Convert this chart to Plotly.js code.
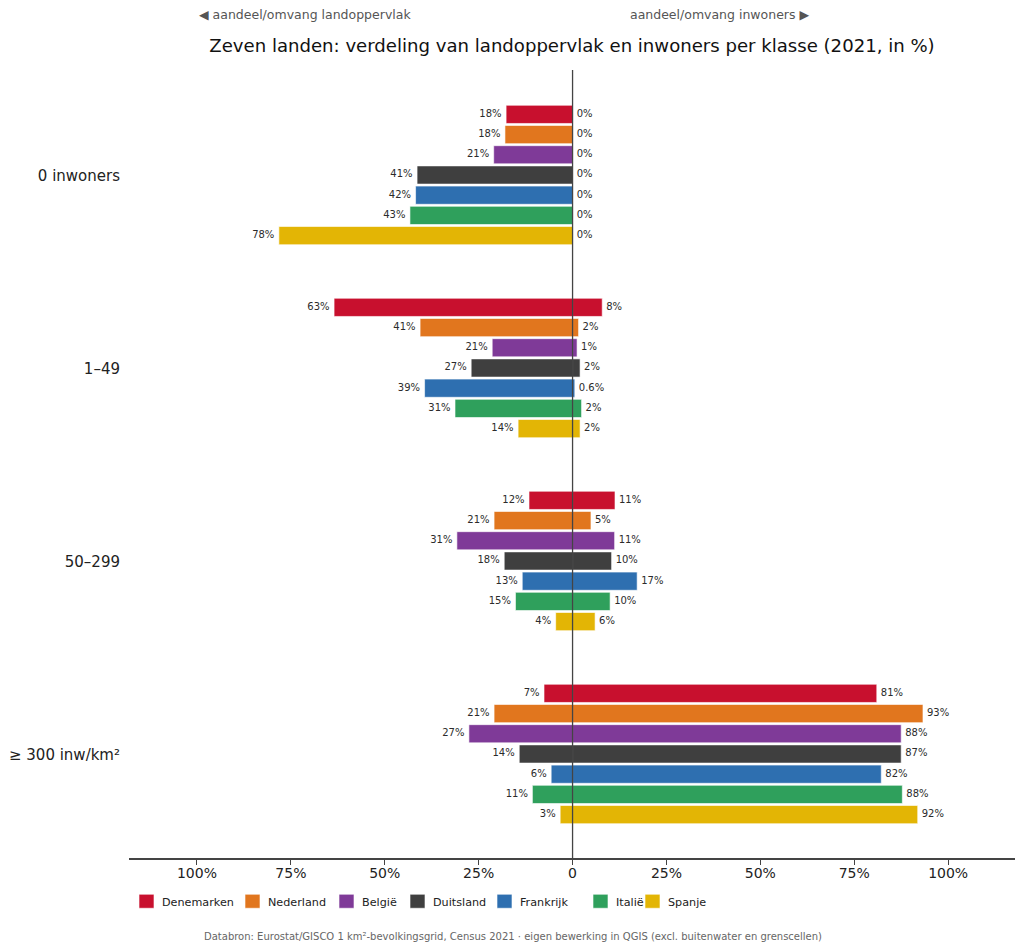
<!DOCTYPE html>
<html><head><meta charset="utf-8">
<script src="https://cdn.plot.ly/plotly-3.0.1.min.js"></script>
<style>html,body{margin:0;padding:0;background:#fff}</style></head>
<body><div id="chart" style="width:1024px;height:951px"></div>
<script>
const categories = ['0 inwoners','1–49','50–299','≥ 300 inw/km²'];
const countries = ['Denemarken','Nederland','België','Duitsland','Frankrijk','Italië','Spanje'];
const colors = ['#C8102E','#E1761E','#7F3A98','#3F3F3F','#2E6FB0','#2FA05C','#E3B505'];
const landDenemarken=[17.7,63.5,11.6,7.6];
const landNederland=[18,40.6,20.9,20.9];
const landBelgie=[21,21.4,30.8,27.6];
const landDuitsland=[41.4,27,18.2,14.2];
const landFrankrijk=[41.8,39.4,13.4,5.7];
const landItalie=[43.3,31.3,15.2,10.7];
const landSpanje=[78.2,14.5,4.5,3.3];
const inwDenemarken=[0.02,7.9,11.3,81];
const inwNederland=[0.02,1.6,4.9,93.3];
const inwBelgie=[0.02,1.2,11.2,87.5];
const inwDuitsland=[0.02,2,10.4,87.5];
const inwFrankrijk=[0.02,0.6,17.2,82.2];
const inwItalie=[0.02,2.4,10,87.8];
const inwSpanje=[0.02,2,6,91.9];
const landLabels=[['18%','63%','12%','7%'],['18%','41%','21%','21%'],['21%','21%','31%','27%'],['41%','27%','18%','14%'],['42%','39%','13%','6%'],['43%','31%','15%','11%'],['78%','14%','4%','3%']];
const inwLabels=[['0%','8%','11%','81%'],['0%','2%','5%','93%'],['0%','1%','11%','88%'],['0%','2%','10%','87%'],['0%','0.6%','17%','82%'],['0%','2%','10%','88%'],['0%','2%','6%','92%']];
const land=[landDenemarken,landNederland,landBelgie,landDuitsland,landFrankrijk,landItalie,landSpanje];
const inw=[inwDenemarken,inwNederland,inwBelgie,inwDuitsland,inwFrankrijk,inwItalie,inwSpanje];
const tickVals=[-100,-75,-50,-25,0,25,50,75,100];
const tickText=['100%','75%','50%','25%','0','25%','50%','75%','100%'];
const legendSwatchLeft=[139,245,339,410,497,593,645];
const FONT='"DejaVu Sans", sans-serif';
const traces=[];
countries.forEach((c,i)=>{
  const base={type:'bar',orientation:'h',y:categories,name:c,offsetgroup:c,
    marker:{color:colors[i],line:{color:'rgba(255,255,255,0.6)',width:1}},
    textposition:'outside',cliponaxis:false,constraintext:'none',
    textfont:{family:FONT,size:10,color:'#2b2b2b'},hoverinfo:'name+text'};
  traces.push(Object.assign({},base,{x:land[i].map(v=>-v),text:landLabels[i],showlegend:true}));
  traces.push(Object.assign({},base,{x:inw[i],text:inwLabels[i],showlegend:false}));
});
const layout={
  width:1024,height:951,paper_bgcolor:'#fff',plot_bgcolor:'#fff',
  font:{family:FONT,color:'#222'},
  margin:{l:129,r:9,t:70,b:93,pad:0},
  barmode:'group',bargap:0.267,bargroupgap:0.1,
  title:{text:'Zeven landen: verdeling van landoppervlak en inwoners per klasse (2021, in %)',
    font:{family:FONT,size:18.1,color:'#111'},x:572/1024,xanchor:'center',y:1-46/951,yanchor:'middle'},
  xaxis:{range:[-118.1,117.8],tickvals:tickVals,ticktext:tickText,showgrid:false,zeroline:false,
    showline:true,linecolor:'#444',linewidth:1.5,ticks:'outside',ticklen:5,tickcolor:'#444',tickwidth:1,
    ticklabelstandoff:-3,tickfont:{family:FONT,size:14,color:'#222'},fixedrange:true},
  yaxis:{type:'category',categoryorder:'array',categoryarray:categories,range:[3.539,-0.544],
    showgrid:false,zeroline:false,showline:false,ticks:'outside',ticklen:5,tickcolor:'rgba(0,0,0,0)',
    tickfont:{family:FONT,size:15,color:'#222'},fixedrange:true},
  shapes:[{type:'line',xref:'x',yref:'paper',x0:0,x1:0,y0:0,y1:1,line:{color:'#444',width:1.3},layer:'above'}],
  legend:{orientation:'h',x:2/886,xanchor:'left',y:-0.0365,yanchor:'top',
    font:{family:FONT,size:11.2,color:'#222'},itemwidth:30,traceorder:'normal',bgcolor:'rgba(0,0,0,0)'},
  annotations:[
    {xref:'paper',yref:'paper',x:(197-129)/886,xanchor:'left',y:1+(70-14)/788,yanchor:'middle',showarrow:false,
     text:'◀ aandeel/omvang landoppervlak',font:{family:FONT,size:12.5,color:'#555'}},
    {xref:'paper',yref:'paper',x:(811-129)/886,xanchor:'right',y:1+(70-14)/788,yanchor:'middle',showarrow:false,
     text:'aandeel/omvang inwoners ▶',font:{family:FONT,size:12.5,color:'#555'}},
    {xref:'paper',yref:'paper',x:(512.5-129)/886,xanchor:'center',y:-(936-858)/788,yanchor:'middle',showarrow:false,
     text:'Databron: Eurostat/GISCO 1 km²-bevolkingsgrid, Census 2021 · eigen bewerking in QGIS (excl. buitenwater en grenscellen)',
     font:{family:FONT,size:10,color:'#666'}}
  ]
};
Plotly.newPlot('chart',traces,layout,{displayModeBar:false,staticPlot:true}).then(gd=>{
  // fine-tune native legend spacing (plotly's minimum item width is wider than the reference)
  gd.querySelectorAll('.legend .traces').forEach((t,i)=>{
    const m=/translate\(([-\d.]+)[ ,]+([-\d.]+)\)/.exec(t.getAttribute('transform'));
    const sw=t.querySelector('.legendbar, .legendpoints path');
    if(sw){ sw.setAttribute('d','M7.5,7H-7.5V-7H7.5Z'); }
    const txt=t.querySelector('.legendtext');
    if(txt){ txt.setAttribute('x',35.5); }
    if(m&&sw){
      const dx=legendSwatchLeft[i]-sw.getBoundingClientRect().left;
      t.setAttribute('transform','translate('+(parseFloat(m[1])+dx)+','+m[2]+')');
    }
  });
  // nudge value labels to the reference's padding
  gd.querySelectorAll('.barlayer .trace.bars').forEach((tr,i)=>{
    const dx=i%2===0?-1.5:1;
    tr.querySelectorAll('.bartext').forEach(el=>{
      el.setAttribute('transform','translate('+dx+',-1) '+(el.getAttribute('transform')||''));
    });
  });
  gd.querySelectorAll('.ytick text').forEach(el=>{
    el.setAttribute('transform','translate(0,1) '+(el.getAttribute('transform')||''));
  });
});
</script></body></html>
